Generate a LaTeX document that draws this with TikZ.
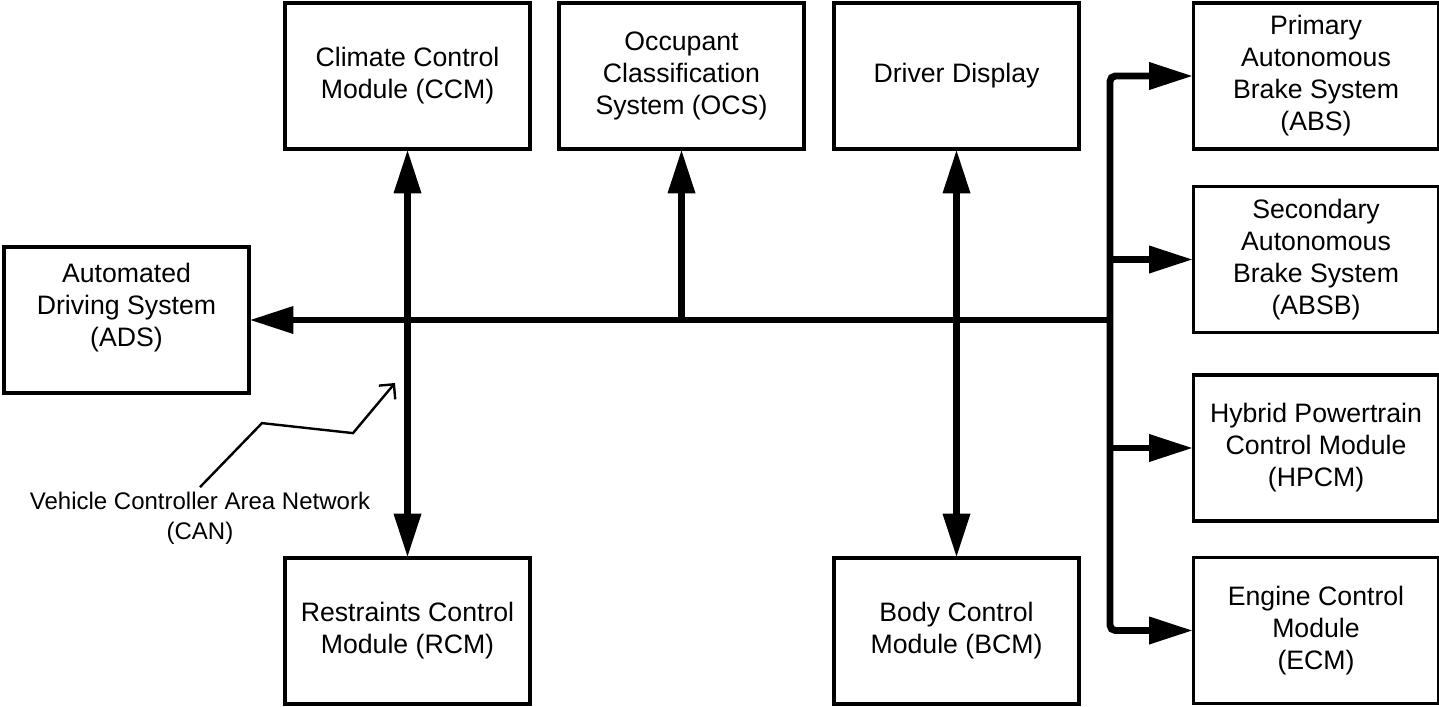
\documentclass[tikz,border=0pt]{standalone}
\usepackage{fontspec}
\setmainfont{Liberation Sans}
\usetikzlibrary{arrows.meta}

\begin{document}
\begin{tikzpicture}[x=0.75pt,y=0.75pt,yscale=-1,xscale=1,
        modtext/.style={align=center,font=\fontsize{20}{24}\selectfont},
        module/.style={draw,line width=2.4pt,minimum width=183.75pt,minimum height=109.5pt,inner sep=0pt,modtext},
        bus/.style={line width=5.2pt,>={Triangle[length=32pt,width=21pt,line width=0pt]}},
        leader/.style={line width=1.8pt,-{Straight Barb[length=8pt,width=16pt]}}]
        \useasboundingbox (0,0) rectangle (1439,707);

        \node[module] (ccm) at (407.5,76) {Climate Control\\Module (CCM)};
        \node[module] (ocs) at (681.5,76) {Occupant\\Classification\\System (OCS)};
        \node[module] (dd) at (956.5,76) {Driver Display};
        \node[module] (abs) at (1316,76) {Primary\\Autonomous\\Brake System\\(ABS)};
        \node[module] (absb) at (1316,259.5) {Secondary\\Autonomous\\Brake System\\(ABSB)};
        \node[module] (hpcm) at (1316,448) {Hybrid Powertrain\\Control Module\\(HPCM)};
        \node[module] (ecm) at (1316,630.5) {Engine Control\\Module\\(ECM)};
        \node[module,label={[modtext,yshift=9pt]center:Automated\\Driving System\\(ADS)}] (ads) at (126.5,320) {};
        \node[module] (rcm) at (407.5,631) {Restraints Control\\Module (RCM)};
        \node[module] (bcm) at (956.5,631) {Body Control\\Module (BCM)};

        \coordinate (hub) at (1110,320);
        \draw[bus,<->,rounded corners=4pt] (abs.west) -| (hub) |- (ecm.west);
        \draw[bus,->] (hub) -- (ads);
        \draw[bus,->] (hub |- absb.west) -- (absb.west);
        \draw[bus,->] (hub |- hpcm.west) -- (hpcm.west);
        \draw[bus,->] (ocs.south |- hub) -- (ocs);
        \draw[bus,<->] (ccm) -- (rcm);
        \draw[bus,<->] (dd) -- (bcm);

        \node[font=\fontsize{18}{22.5}\selectfont,align=center] (can) at (200,518) {Vehicle Controller Area Network\\(CAN)};
        \coordinate (canhead) at (395,383);
        \draw[leader] (can.north) -- ++(62,-64) -- ++(91,10) -- (canhead);
    \end{tikzpicture}
\end{document}
